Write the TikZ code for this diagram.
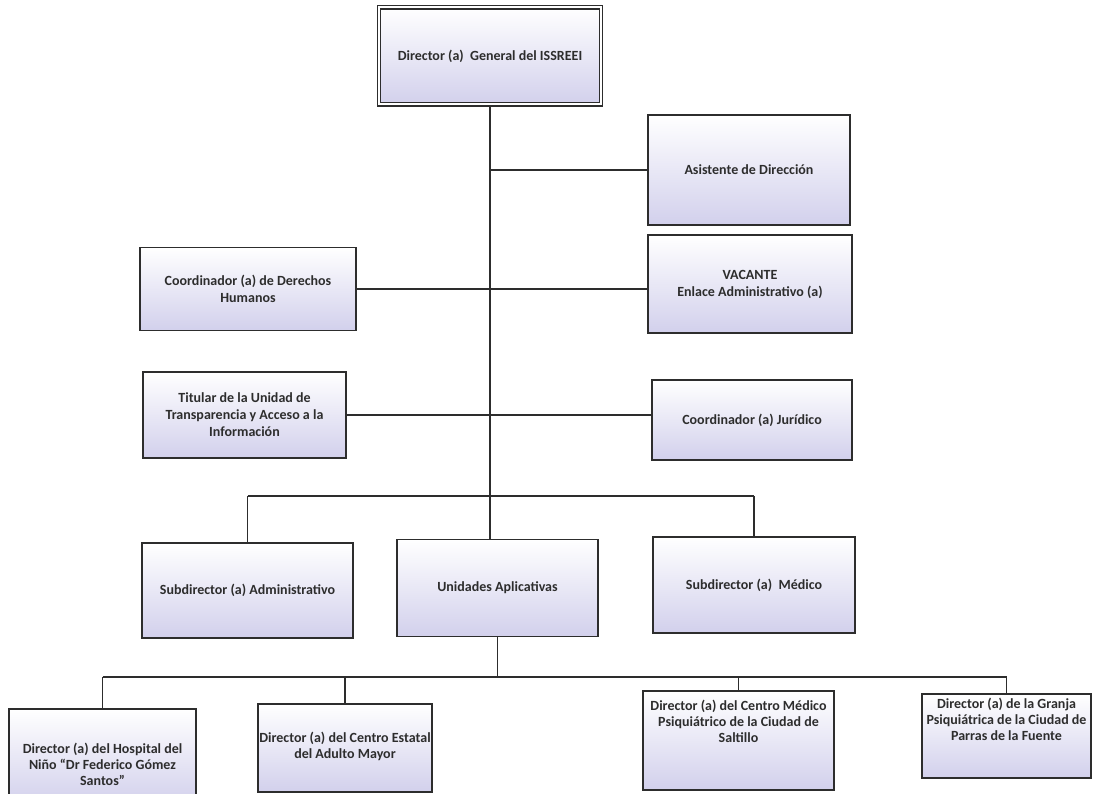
\documentclass[tikz,border=0pt]{standalone}
\usepackage{fontspec}
\setmainfont{Carlito}
\usetikzlibrary{calc}
\definecolor{boxbot}{RGB}{210,208,236}
\definecolor{ink}{RGB}{45,45,45}
\tikzset{
  orgbox/.style={draw=ink, line width=1.4pt, top color=white, bottom color=boxbot,
    inner sep=2pt, align=center, font=\fontsize{14}{17}\selectfont\bfseries, text=ink},
  lbl/.style={align=center, font=\fontsize{14}{16}\selectfont\bfseries, text=ink, inner sep=0pt},
  conn/.style={draw=ink, line width=1.2pt}
}
\begin{document}
\begin{tikzpicture}[x=1pt,y=-1pt]
\useasboundingbox (0,0) rectangle (1100,794);
% boxes
\node[orgbox, double=white, double distance=2pt, line width=1.2pt, minimum width=222pt, minimum height=97pt] (top) at (490,56) {Director (a)\ \ General del ISSREEI};
\node[orgbox, minimum width=202pt, minimum height=110pt] (asis) at (749,170) {Asistente de Dirección};
\node[orgbox, minimum width=216pt, minimum height=83pt] (ddhh) at (248,289) {Coordinador (a) de Derechos\\Humanos};
\node[orgbox, minimum width=204pt, minimum height=98pt] (vac) at (750,284) {VACANTE\\Enlace Administrativo (a)};
\node[orgbox, minimum width=203pt, minimum height=86pt] (tit) at (244.5,415) {Titular de la Unidad de\\Transparencia y Acceso a la\\Información};
\node[orgbox, minimum width=200pt, minimum height=80pt] (jur) at (752,420) {Coordinador (a) Jurídico};
\node[orgbox, minimum width=211pt, minimum height=95pt] (sadm) at (247.5,590.5) {Subdirector (a) Administrativo};
\node[orgbox, minimum width=201pt, minimum height=97pt] (unid) at (497.5,588) {Unidades Aplicativas};
\node[orgbox, minimum width=202pt, minimum height=96pt] (smed) at (754,585) {Subdirector (a)\ \ Médico};
\node[orgbox, minimum width=187pt, minimum height=96pt] (b1) at (102.5,757) {};
\node[lbl] (t1) at (102.5,764) {Director (a) del Hospital del\\Niño “Dr Federico Gómez\\Santos”};
\node[orgbox, minimum width=174pt, minimum height=88pt] (b2) at (345,748) {};
\node[lbl] (t2) at (345,746) {Director (a) del Centro Estatal\\del Adulto Mayor};
\node[orgbox, minimum width=191pt, minimum height=99pt] (b3) at (738.5,740.5) {};
\node[lbl] (t3) at (738.5,721) {Director (a) del Centro Médico\\Psiquiátrico de la Ciudad de\\Saltillo};
\node[orgbox, minimum width=169pt, minimum height=84pt] (b4) at (1006.5,736) {};
\node[lbl] (t4) at (1006.5,719) {Director (a) de la Granja\\Psiquiátrica de la Ciudad de\\Parras de la Fuente};
% junction coordinates
\coordinate (jA) at (top.south |- asis.west);
\coordinate (bar) at (top.south |- 0,496);
\coordinate (barL) at (sadm.north |- bar);
\coordinate (barR) at (smed.north |- bar);
\coordinate (low) at (unid.south |- 0,677);
\coordinate (lowL) at (b1.north |- low);
\coordinate (lowR) at (b4.north |- low);
% connectors
\draw[conn] (top.south) -- (unid.north -| top.south);
\draw[conn] (jA) -- (asis.west);
\draw[conn] (ddhh.east) -- (vac.west |- ddhh.east);
\draw[conn] (tit.east) -- (jur.west |- tit.east);
\draw[conn] (barL) -- (barR);
\draw[conn] (barL) -- (sadm.north);
\draw[conn] (barR) -- (smed.north);
\draw[conn] (unid.south) -- (low);
\draw[conn] (lowL) -- (lowR);
\draw[conn] (lowL) -- (b1.north);
\draw[conn] (b2.north |- low) -- (b2.north);
\draw[conn] (b3.north |- low) -- (b3.north);
\draw[conn] (lowR) -- (b4.north);
\end{tikzpicture}
\end{document}
